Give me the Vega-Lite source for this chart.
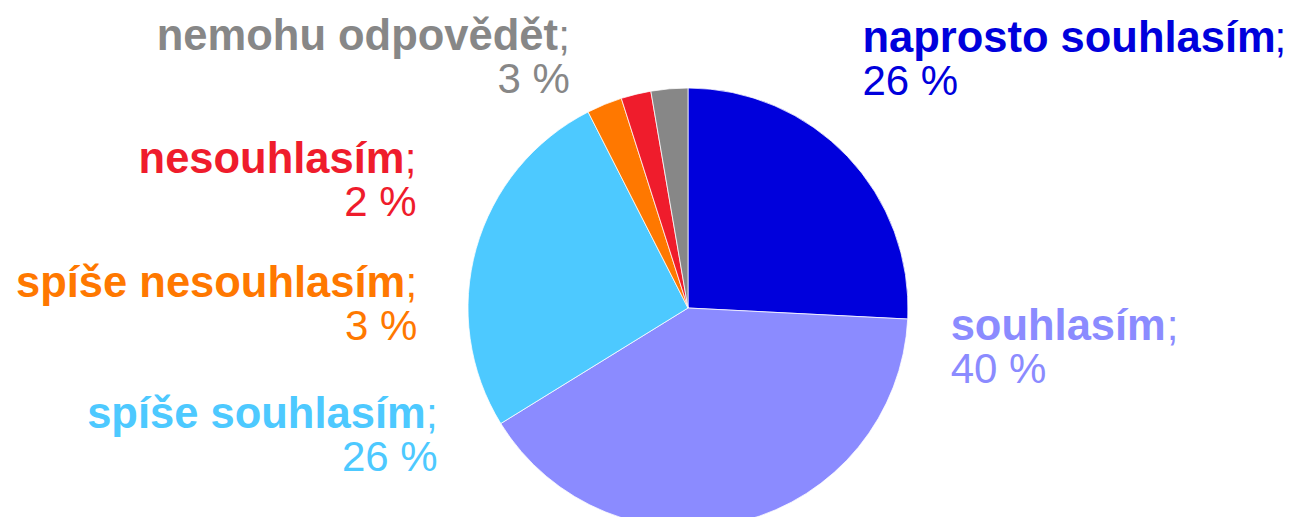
{
  "$schema": "https://vega.github.io/schema/vega-lite/v6.json",
  "width": 1208,
  "height": 418,
  "autosize": {"type": "none"},
  "padding": {"left": 84, "top": 99, "right": 0, "bottom": 0},
  "background": "white",
  "config": {
    "view": {"stroke": null},
    "locale": {"number": {"decimal": ",", "thousands": " ", "grouping": [3], "currency": ["", " Kč"], "percent": " %"}}
  },
  "data": {
    "values": [
      {"kategorie": "naprosto souhlasím", "podil": 0.258},
      {"kategorie": "souhlasím", "podil": 0.404},
      {"kategorie": "spíše souhlasím", "podil": 0.263},
      {"kategorie": "spíše nesouhlasím", "podil": 0.026},
      {"kategorie": "nesouhlasím", "podil": 0.022},
      {"kategorie": "nemohu odpovědět", "podil": 0.027}
    ]
  },
  "transform": [{"window": [{"op": "row_number", "as": "poradi"}]}],
  "encoding": {
    "theta": {"field": "podil", "type": "quantitative", "stack": true},
    "order": {"field": "poradi", "type": "quantitative"},
    "color": {
      "field": "kategorie",
      "type": "nominal",
      "scale": {
        "domain": ["naprosto souhlasím", "souhlasím", "spíše souhlasím", "spíše nesouhlasím", "nesouhlasím", "nemohu odpovědět"],
        "range": ["#0000DC", "#8B8BFF", "#4DC9FF", "#FF7800", "#EF1C2C", "#878787"]
      },
      "legend": null
    }
  },
  "layer": [
    {
      "mark": {"type": "arc", "outerRadius": 220, "stroke": "white", "strokeWidth": 0.75}
    },
    {
      "mark": {
        "type": "text",
        "radius": 260,
        "font": "Liberation Sans",
        "fontSize": 43.5,
        "fontWeight": "bold",
        "baseline": "alphabetic",
        "align": {"expr": "datum.poradi <= 2 ? 'left' : 'right'"},
        "dx": {"expr": "[-14, 198, -12, -184, -222, -108][datum.poradi - 1]"},
        "dy": {"expr": "[-77, -220, 190, 230, 118, 1][datum.poradi - 1]"}
      },
      "encoding": {"text": {"field": "kategorie", "type": "nominal"}}
    },
    {
      "mark": {
        "type": "text",
        "radius": 260,
        "font": "Liberation Sans",
        "fontSize": 42,
        "baseline": "alphabetic",
        "align": {"expr": "datum.poradi <= 2 ? 'left' : 'right'"},
        "dx": {"expr": "[398, 414, 0, -172, -210, -96][datum.poradi - 1]"},
        "dy": {"expr": "[-77, -220, 190, 230, 118, 1][datum.poradi - 1]"}
      },
      "encoding": {"text": {"value": ";"}}
    },
    {
      "mark": {
        "type": "text",
        "radius": 260,
        "font": "Liberation Sans",
        "fontSize": 42,
        "baseline": "alphabetic",
        "align": {"expr": "datum.poradi <= 2 ? 'left' : 'right'"},
        "dx": {"expr": "[-14, 198, 0, -172, -210, -96][datum.poradi - 1]"},
        "dy": {"expr": "[-34, -177, 233, 273, 161, 44][datum.poradi - 1]"}
      },
      "encoding": {"text": {"field": "podil", "type": "quantitative", "format": ".0%"}}
    }
  ]
}
